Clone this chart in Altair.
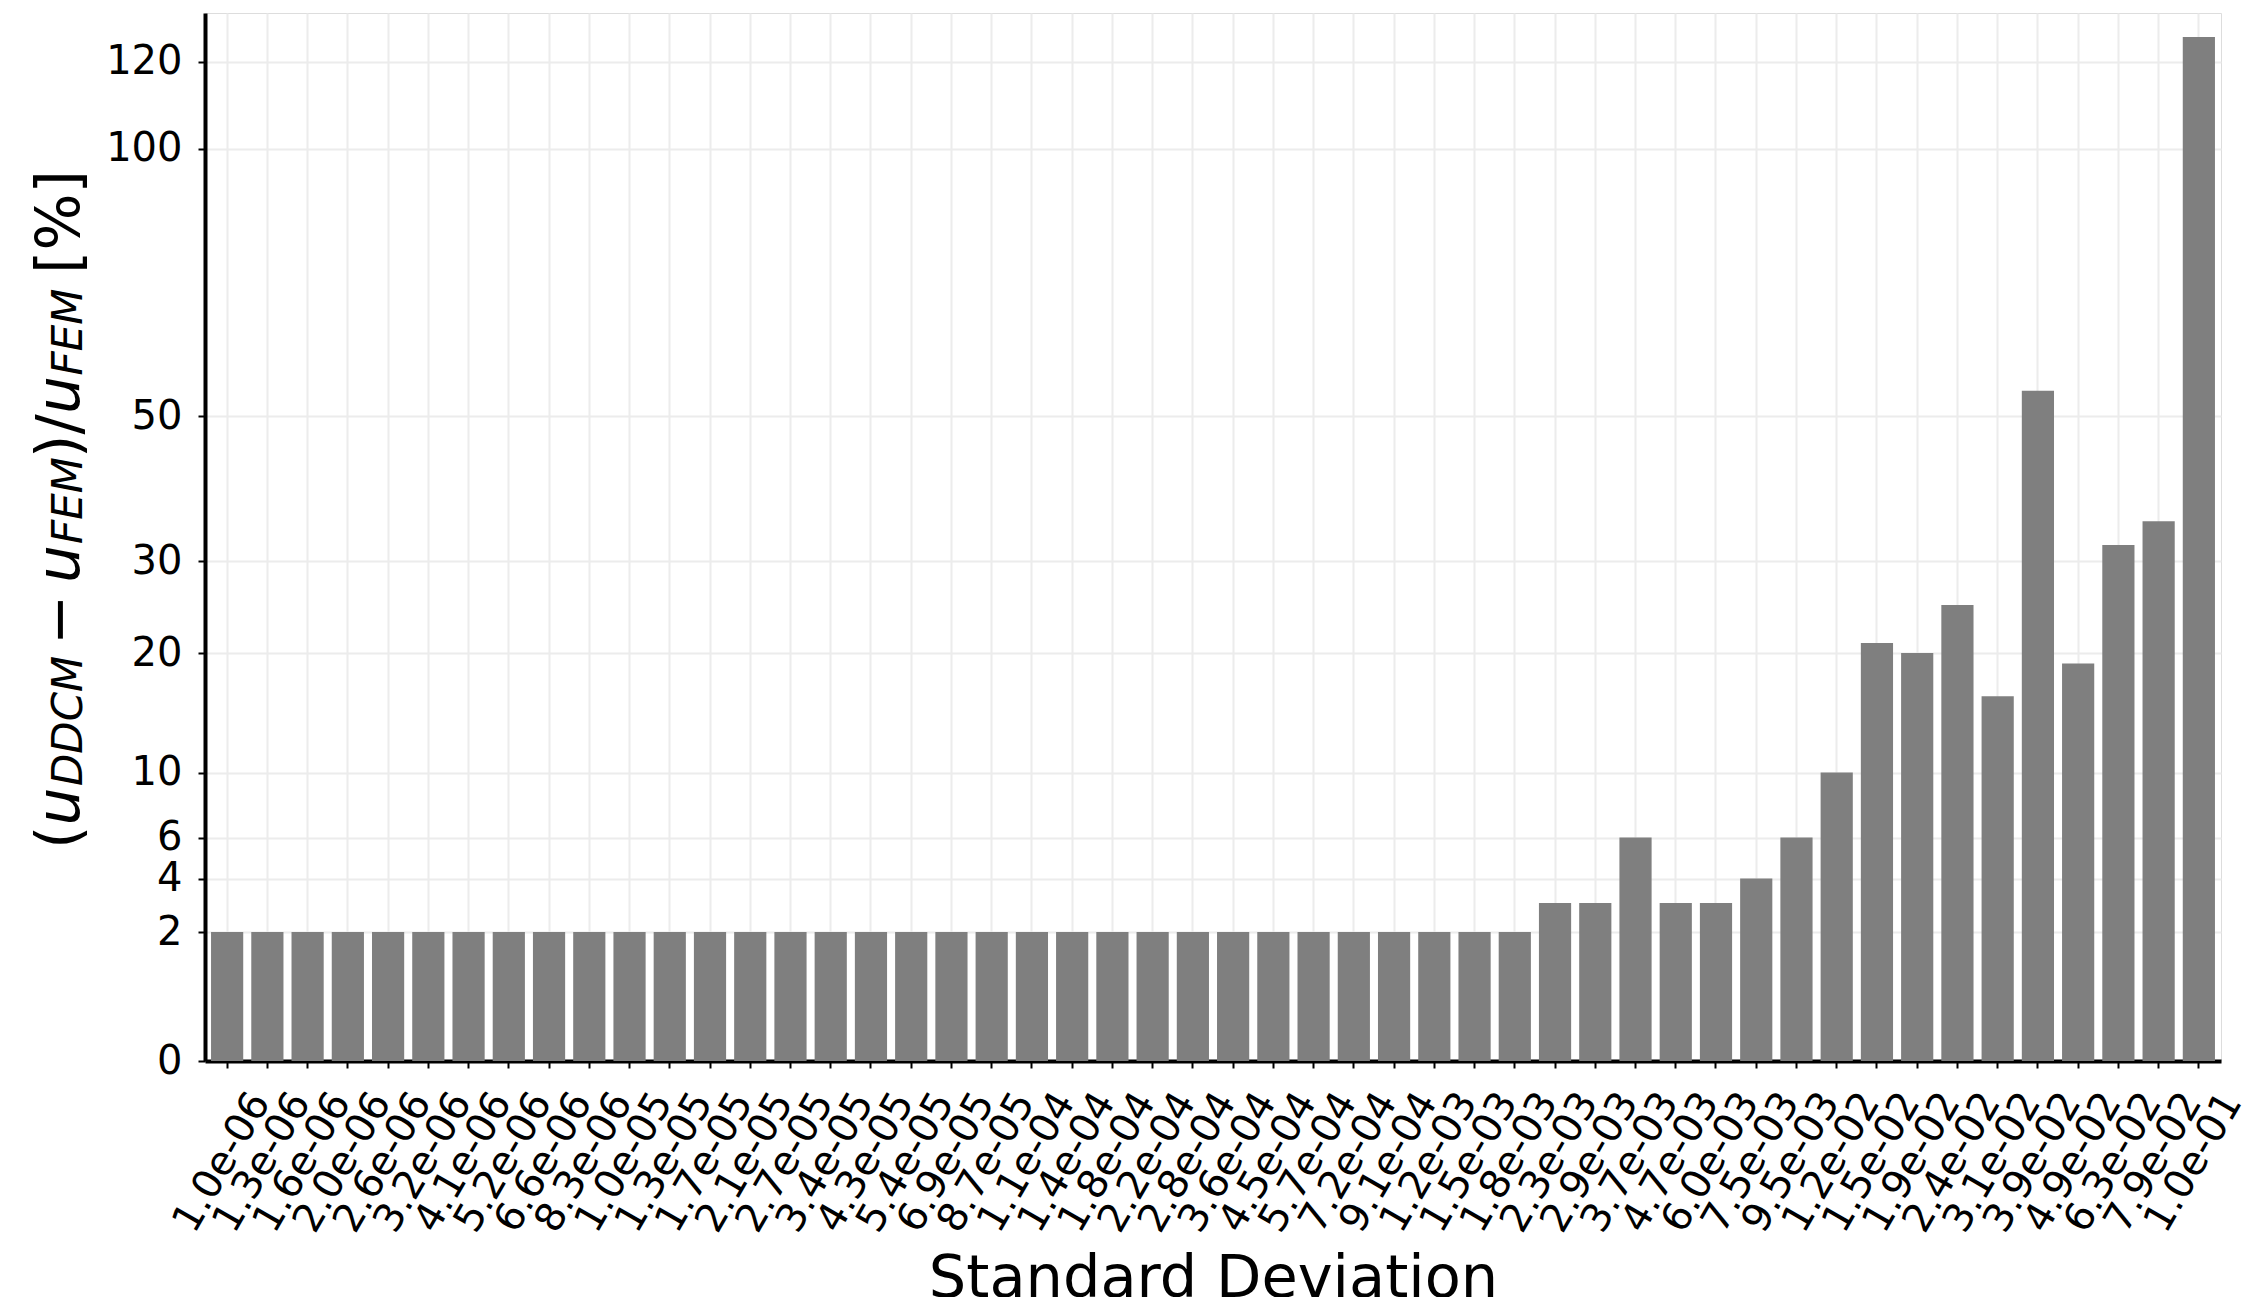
import altair as alt
import pandas as pd

labels = [
    "1.0e-06", "1.3e-06", "1.6e-06", "2.0e-06", "2.6e-06", "3.2e-06", "4.1e-06", "5.2e-06", "6.6e-06", "8.3e-06",
    "1.0e-05", "1.3e-05", "1.7e-05", "2.1e-05", "2.7e-05", "3.4e-05", "4.3e-05", "5.4e-05", "6.9e-05", "8.7e-05",
    "1.1e-04", "1.4e-04", "1.8e-04", "2.2e-04", "2.8e-04", "3.6e-04", "4.5e-04", "5.7e-04", "7.2e-04", "9.1e-04",
    "1.2e-03", "1.5e-03", "1.8e-03", "2.3e-03", "2.9e-03", "3.7e-03", "4.7e-03", "6.0e-03", "7.5e-03", "9.5e-03",
    "1.2e-02", "1.5e-02", "1.9e-02", "2.4e-02", "3.1e-02", "3.9e-02", "4.9e-02", "6.3e-02", "7.9e-02", "1.0e-01",
]
errors = [
    2, 2, 2, 2, 2, 2, 2, 2, 2, 2,
    2, 2, 2, 2, 2, 2, 2, 2, 2, 2,
    2, 2, 2, 2, 2, 2, 2, 2, 2, 2,
    2, 2, 2, 3, 3, 6, 3, 3, 4, 6,
    10, 21, 20, 25, 16, 54, 19, 32, 35, 126,
]
y_ticks = [0, 2, 4, 6, 10, 20, 30, 50, 100, 120]
y_max = 132

df = pd.DataFrame({"sd": labels, "err": errors})

FONT = "DejaVu Sans"

bars = alt.Chart(df).mark_bar(color="#7f7f7f").encode(
    x=alt.X(
        "sd:N",
        sort=labels,
        scale=alt.Scale(paddingInner=0.2, paddingOuter=0.15),
        axis=alt.Axis(
            title="Standard Deviation",
            titleFontSize=59,
            titleFont=FONT,
            titleFontWeight="normal",
            titleColor="black",
            titleBaseline="alphabetic",
            titleY=235,
            labelAngle=300,
            labelAlign="center",
            labelBaseline="middle",
            labelPadding=94,
            labelOffset=-5,
            labelFontSize=40,
            labelFont=FONT,
            labelColor="black",
            labelOverlap=False,
            labelBound=False,
            grid=True,
            gridColor="#ececec",
            gridWidth=2,
            tickColor="black",
            tickWidth=2,
            tickSize=7,
            domainColor="black",
            domainWidth=4,
        ),
    ),
    y=alt.Y(
        "err:Q",
        scale=alt.Scale(type="sqrt", domain=[0, y_max], nice=False, zero=True),
        axis=alt.Axis(
            title=None,
            values=y_ticks,
            labelFontSize=40,
            labelFont=FONT,
            labelColor="black",
            labelPadding=16,
            grid=True,
            gridColor="#ececec",
            gridWidth=2,
            tickColor="black",
            tickWidth=2,
            tickSize=7,
            domainColor="black",
            domainWidth=4,
        ),
    ),
)

one = pd.DataFrame({"k": [0]})


def seg(text, y0, size, style, xb):
    return alt.Chart(one).mark_text(
        text=text,
        angle=270,
        align="left",
        baseline="alphabetic",
        font=FONT,
        fontSize=size,
        fontStyle=style,
        color="black",
    ).encode(x=alt.value(xb), y=alt.value(y0))


MAIN_X = -126
SUB_X = -123
title_parts = [
    seg("(", 836, 60, "normal", MAIN_X),
    seg("u", 812.6, 60, "italic", MAIN_X),
    seg("DDCM", 773, 42, "italic", SUB_X),
    seg("\u2212", 632, 60, "normal", MAIN_X),
    seg("u", 570, 60, "italic", MAIN_X),
    seg("FEM", 531, 42, "italic", SUB_X),
    seg(")/", 445, 60, "normal", MAIN_X),
    seg("u", 401, 60, "italic", MAIN_X),
    seg("FEM", 362.5, 42, "italic", SUB_X),
    seg("[%]", 261, 60, "normal", MAIN_X),
]

chart = alt.layer(bars, *title_parts).properties(
    width=2016,
    height=1048,
    autosize=alt.AutoSizeParams(type="none"),
    padding={"left": 197, "top": 5, "right": 25, "bottom": 236},
).configure_view(stroke=None).configure(background="white")

chart.save("out.html", embed_options={"renderer": "svg", "actions": False})
